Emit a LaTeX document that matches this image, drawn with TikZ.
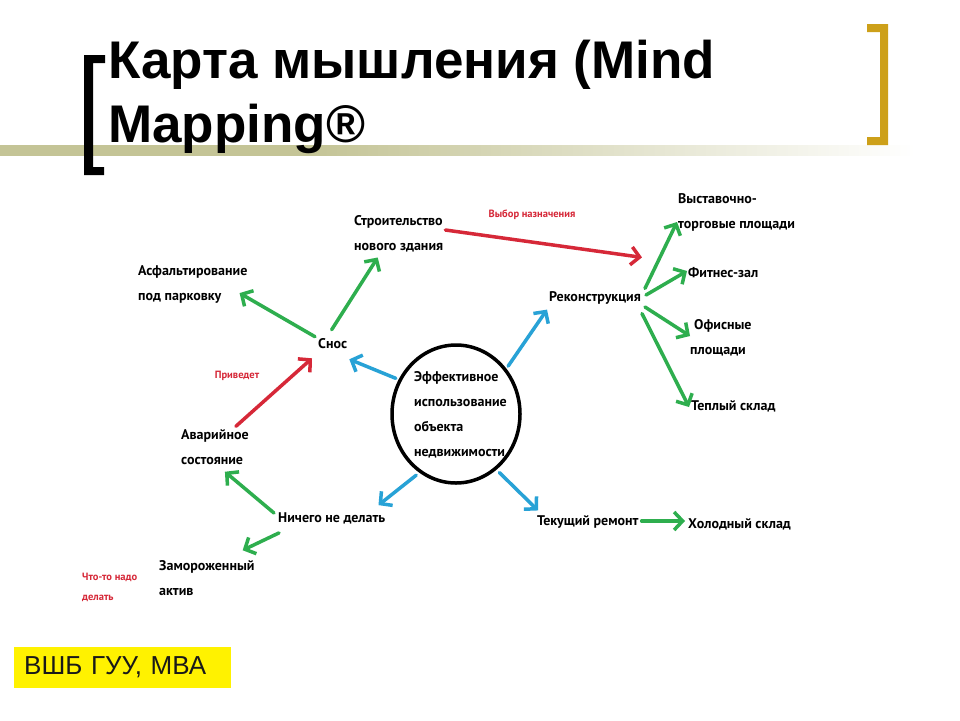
\documentclass[tikz,border=0pt]{standalone}
\usepackage{fontspec}
\setmainfont{Liberation Sans}
\newfontfamily\mmfont{PT Sans}
\usetikzlibrary{arrows.meta,shapes.geometric}
\definecolor{mmblue}{RGB}{40,162,214}
\definecolor{mmgreen}{RGB}{46,174,78}
\definecolor{mmred}{RGB}{214,40,56}
\definecolor{bracketgold}{RGB}{205,160,25}
\definecolor{barkhaki}{RGB}{196,196,150}
\pgfdeclarehorizontalshading{barshade}{100bp}{color(0bp)=(barkhaki); color(25bp)=(barkhaki); color(42bp)=(barkhaki); color(75bp)=(white); color(100bp)=(white)}
\tikzset{
  lbl/.style={font=\mmfont\bfseries\fontsize{14}{25}\selectfont, align=left, inner sep=1pt, anchor=west},
  rlbl/.style={font=\mmfont\bfseries\fontsize{10.5}{20}\selectfont, text=mmred, align=left, inner sep=1pt},
  arr/.style={line width=3.5pt, -{Straight Barb[length=8.5pt,width=18pt]}, line cap=round},
  barr/.style={arr, mmblue},
  garr/.style={arr, mmgreen},
  rarr/.style={arr, mmred},
}
\begin{document}
\begin{tikzpicture}[x=1pt,y=-1pt]
\path[fill=white] (0,0) rectangle (960,720);
\useasboundingbox (0,0) rectangle (960,720);
% title bar
\shade[shading=barshade] (0,145) rectangle (915,155);
% brackets
\fill[black] (84,55) -- (105,55) -- (105,63) -- (93,63) -- (93,167) -- (104,167) -- (104,175) -- (84,175) -- cycle;
\fill[bracketgold] (888,24) -- (867,24) -- (867,32) -- (880,32) -- (880,137) -- (867,137) -- (867,145) -- (888,145) -- cycle;
% title
\node[anchor=base west, inner sep=0, font=\bfseries\fontsize{53}{64}\selectfont] (t1) at (108,78) {Карта мышления (Mind};
\node[anchor=base west, inner sep=0, font=\bfseries\fontsize{53}{64}\selectfont] (t2) at (108,142) {Mapping®};
% footer box
\node[fill=yellow, anchor=north west, inner xsep=10pt, inner ysep=0pt, text width=197pt, minimum height=41pt, align=left, text=black!90, font=\fontsize{26}{30}\selectfont] (vshb) at (14,647) {ВШБ ГУУ, МВА};

% central node
\node[ellipse, draw, line width=3.5pt, minimum width=128pt, minimum height=138pt, inner sep=0] (c) at (456,414) {};
\node[lbl] (ctext) at (413,415) {Эффективное\\использование\\объекта\\недвижимости};

% nodes
\node[lbl] (str) at (353,234) {Строительство\\нового здания};
\node[lbl] (asf) at (137,284) {Асфальтирование\\под парковку};
\node[lbl] (snos) at (317,344) {Снос};
\node[lbl] (avar) at (180,447) {Аварийное\\состояние};
\node[lbl] (nich) at (277,518) {Ничего не делать};
\node[lbl] (zam) at (158,578) {Замороженный\\актив};
\node[lbl] (rek) at (548,298) {Реконструкция};
\node[lbl] (vyst) at (677,212) {Выставочно-\\торговые площади};
\node[lbl] (fit) at (687,273) {Фитнес-зал};
\node[lbl] (ofis) at (689,338) {\hspace*{4pt}Офисные\\площади};
\node[lbl] (tepl) at (690,406) {Теплый склад};
\node[lbl] (tek) at (536,522) {Текущий ремонт};
\node[lbl] (hol) at (687,524) {Холодный склад};

% red labels
\node[rlbl] (priv) at (237,376) {Приведет};
\node[rlbl] (vybor) at (532,215) {Выбор назначения};
\node[rlbl, anchor=west] (chto) at (81,587) {Что-то надо\\делать};

% blue arrows
\draw[barr, shorten <=3pt] (c.149) -- ([shift={(1,9)}]snos.south east);
\draw[barr, shorten <=3pt] (c.42) -- ([shift={(-1,4)}]rek.south west);
\draw[barr, shorten <=4pt] (c.238) -- ([shift={(-8,-6)}]nich.north east);
\draw[barr, shorten <=4pt] (c.306) -- ([shift={(2,-4)}]tek.north west);

% green arrows
\draw[garr] ([shift={(-1,-8)}]snos.north) -- ([shift={(-21,4)}]str.south);
\draw[garr] ([shift={(-2,-1)}]snos.north west) -- ([shift={(-9,-11)}]asf.south east);
\draw[garr] ([shift={(-3,-5)}]nich.west) -- ([shift={(10,6)}]avar.south);
\draw[garr] ([shift={(2,8)}]nich.south west) -- ([shift={(-13,-9)}]zam.north east);
\draw[garr] ([shift={(3,-2)}]rek.north east) -- ([shift={(0,10)}]vyst.west);
\draw[garr] ([shift={(4,-3)}]rek.east) -- ([shift={(0,-2)}]fit.west);
\draw[garr] ([shift={(3,9)}]rek.east) -- ([shift={(1,-2)}]ofis.west);
\draw[garr] ([shift={(0,8)}]rek.south east) -- ([shift={(-1,1)}]tepl.west);
\draw[garr] ([shift={(2,-1)}]tek.east) -- ([shift={(-2,-3)}]hol.west);

% red arrows
\draw[rarr] ([shift={(21,-2)}]avar.north) -- ([shift={(-5,8)}]snos.south west);
\draw[rarr] ([shift={(1,-4)}]str.east) -- ([shift={(0,-33)}]rek.north east);
\end{tikzpicture}
\end{document}
